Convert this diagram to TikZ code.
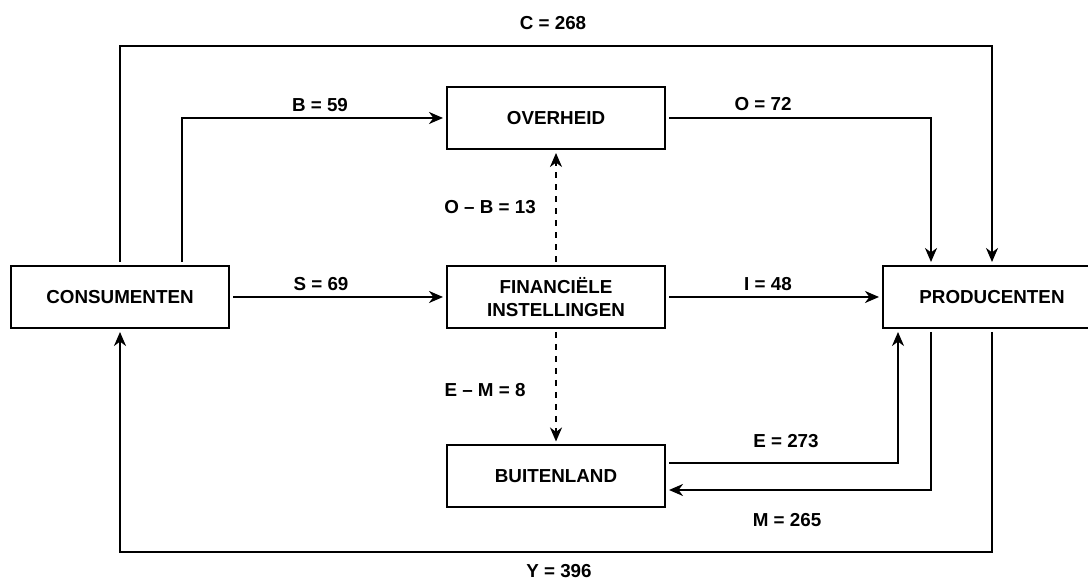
\documentclass[tikz,border=0pt]{standalone}
\usepackage{fontspec}
\setmainfont{Liberation Sans}
\usetikzlibrary{positioning, arrows.meta, calc}

\begin{document}
\begin{tikzpicture}[x=0.5pt, y=-0.5pt,
  box/.style={draw, line width=1pt, minimum width=109pt, minimum height=31pt, align=center, outer sep=2pt, font=\bfseries\fontsize{9.4}{11.5}\selectfont},
  flow/.style={line width=0.9pt, -{Stealth[length=7pt, width=6pt, inset=2.2pt]}},
  lbl/.style={font=\bfseries\fontsize{9.4}{11}\selectfont}]
  \useasboundingbox (0,0) rectangle (1088,582);
  \node[box] (cons) at (120,297) {CONSUMENTEN};
  \node[box] (over) at (556,118) {OVERHEID};
  \node[box] (fin) at (556,297) {FINANCI\"ELE\\INSTELLINGEN};
  \node[box] (prod) at (992,297) {PRODUCENTEN};
  \node[box] (buit) at (556,476.5) {BUITENLAND};
  \coordinate (toprow) at (0,46);
  \coordinate (botrow) at (0,552);

  \draw[flow] (cons.north) -- (cons.north |- toprow) -| (prod.north);
  \draw[flow] ([xshift=31pt]cons.north) |- (over.west);
  \draw[flow] (over.east) -| ([xshift=-30.5pt]prod.north);
  \draw[flow] (cons) -- (fin);
  \draw[flow] (fin) -- (prod);
  \draw[flow, dashed] (fin) -- (over);
  \draw[flow, dashed] (fin) -- (buit);
  \draw[flow] ([yshift=6.75pt]buit.east) -| ([xshift=-47pt]prod.south);
  \draw[flow] ([xshift=-30.5pt]prod.south) |- ([yshift=-6.75pt]buit.east);
  \draw[flow] (prod.south) -- (prod.south |- botrow) -| (cons.south);

  \node[lbl] (lc) at (553,23) {C = 268};
  \node[lbl] (lb) at (320,105) {B = 59};
  \node[lbl] (lo) at (763,104) {O = 72};
  \node[lbl] (ls) at (321,284) {S = 69};
  \node[lbl] (li) at (768,284) {I = 48};
  \node[lbl] (lob) at (490,207) {O \textendash{} B = 13};
  \node[lbl] (lem) at (485,390) {E \textendash{} M = 8};
  \node[lbl] (le) at (786,441) {E = 273};
  \node[lbl] (lm) at (787,520) {M = 265};
  \node[lbl] (ly) at (559,571) {Y = 396};
\end{tikzpicture}
\end{document}
